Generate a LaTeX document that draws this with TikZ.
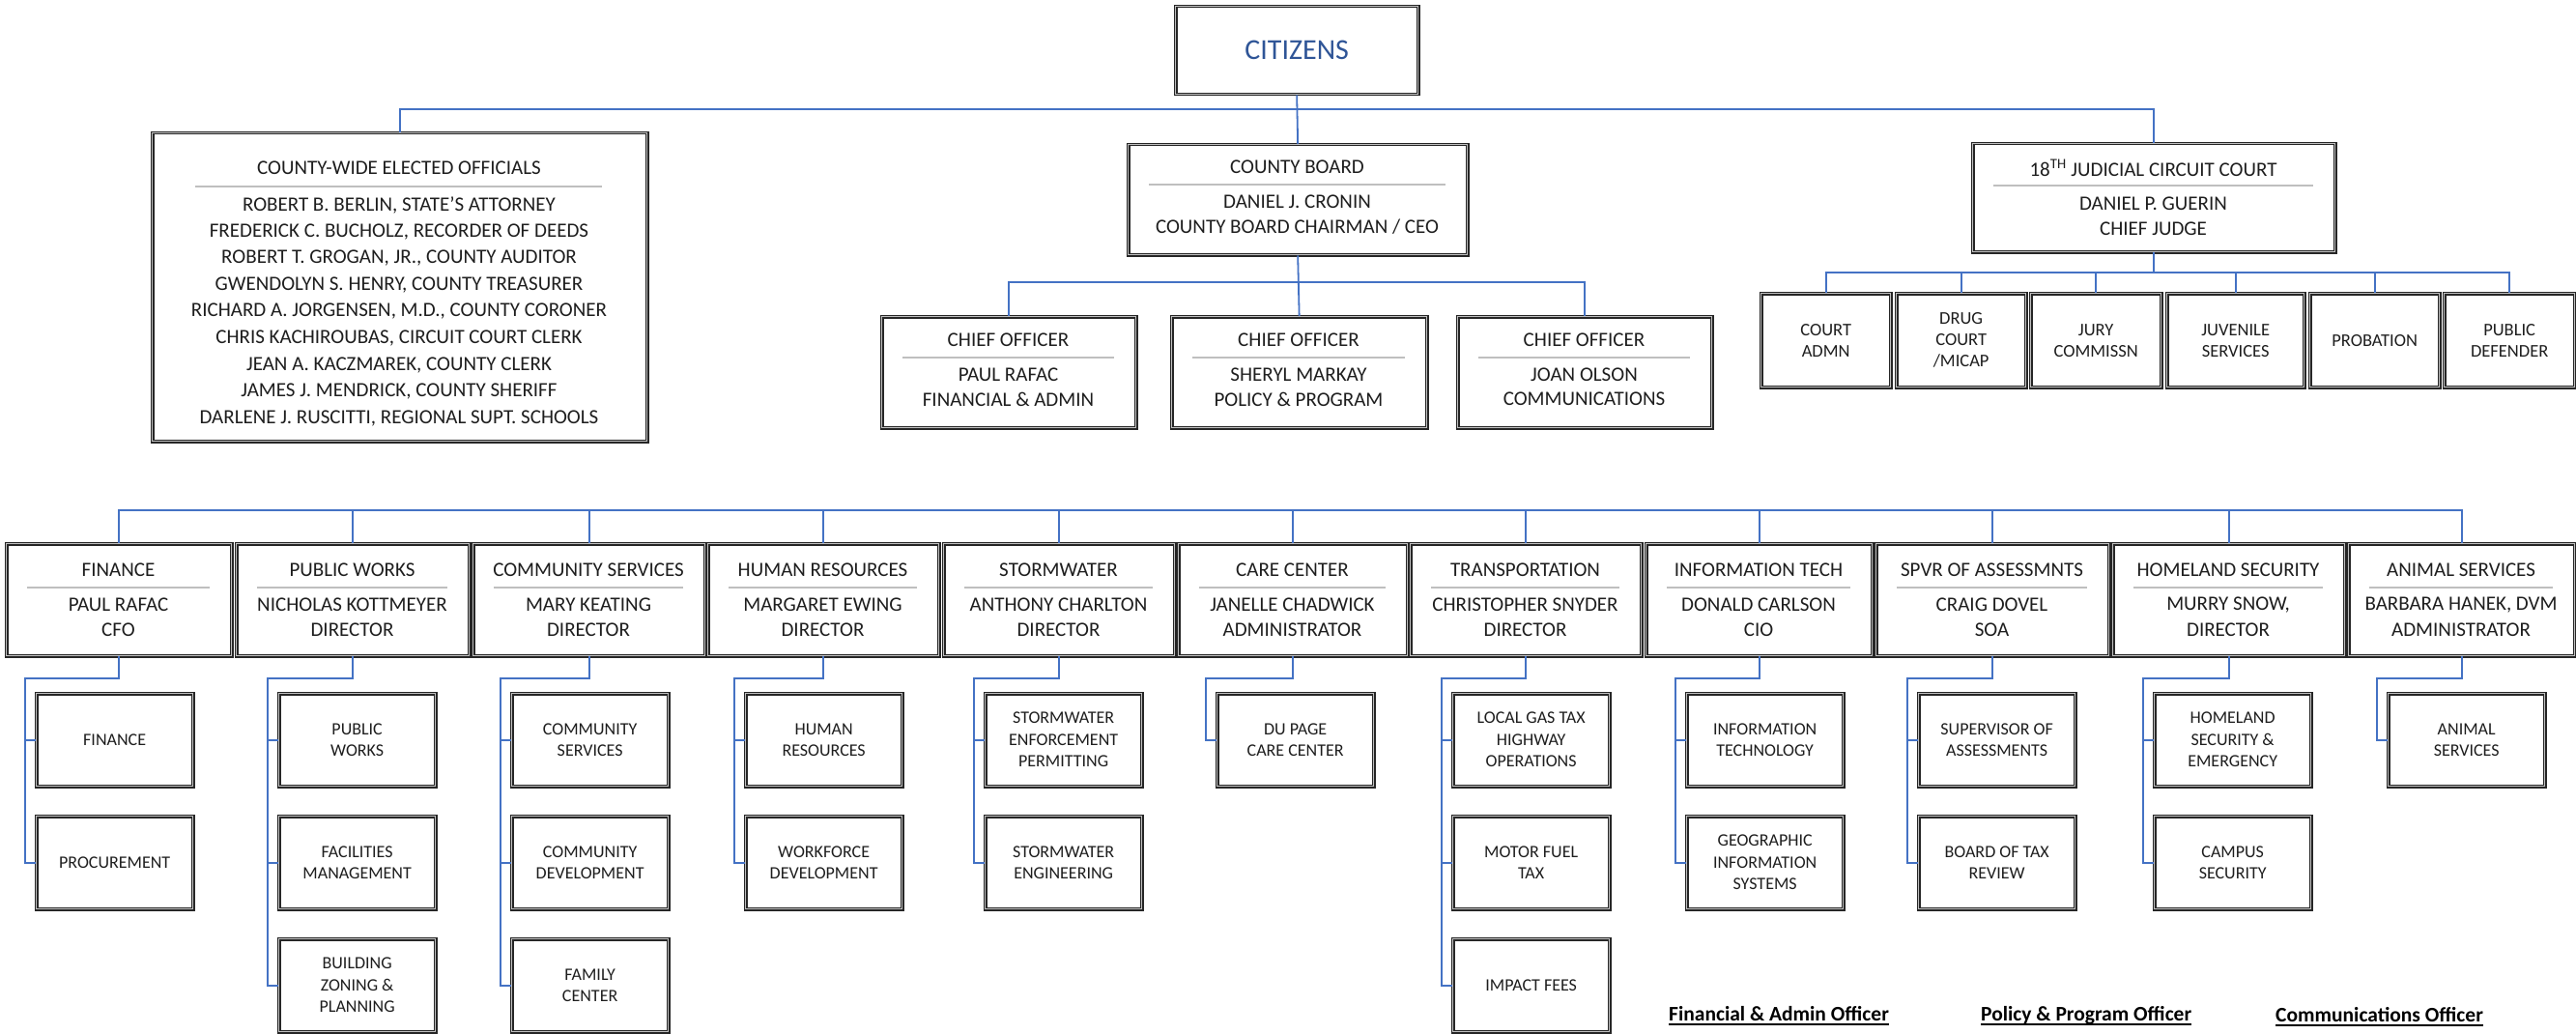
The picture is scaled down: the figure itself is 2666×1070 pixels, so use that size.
\documentclass[tikz,border=0pt]{standalone}
\usepackage{fontspec}
\setmainfont{Carlito}
\definecolor{linkblue}{RGB}{68,114,196}
\definecolor{citblue}{RGB}{47,85,151}
\definecolor{txt}{RGB}{30,30,30}
\tikzset{
  orgbox/.style={draw=black!85, line width=1.3pt, double=black!25, double distance=1.1pt, rectangle, inner sep=0pt, anchor=north west},
  link/.style={draw=linkblue, line width=1.8pt},
  sepline/.style={draw=gray!50, line width=1.4pt},
  lbl/.style={text=txt, font=\fontsize{21}{26}\selectfont, inner sep=0pt},
  sublbl/.style={text=txt, font=\fontsize{18}{22.5}\selectfont, align=center, inner sep=0pt},
  jlbl/.style={text=txt, font=\fontsize{18.5}{22}\selectfont, align=center, inner sep=0pt},
  leg/.style={text=black, font=\bfseries\fontsize{21.5}{25}\selectfont, inner sep=0pt, anchor=base west},
}
\newcommand\deptunit[6]{%
  \node[orgbox, minimum width={#3-#2}, minimum height=116] (#1) at (#2,562) {};
  \node[lbl] (#1-t) at ({(#2+#3)/2},590) {#4};
  \draw[sepline] ({#2+22},608) -- ({#3-22},608);
  \node[lbl] (#1-a) at ({(#2+#3)/2},626) {#5};
  \node[lbl] (#1-b) at ({(#2+#3)/2},652) {#6};
}
\newcommand\subunit[4]{%
  \node[orgbox, minimum width=162, minimum height=96] (#1) at (#2,#3) {};
  \node[sublbl] (#1-t) at (#1.center) {#4};
}
\newcommand\chiefunit[5]{%
  \node[orgbox, minimum width={#3-#2}, minimum height=115] (#1) at (#2,327) {};
  \node[lbl] (#1-t) at ({(#2+#3)/2},352) {CHIEF OFFICER};
  \draw[sepline] ({#2+22},370) -- ({#3-22},370);
  \node[lbl] (#1-a) at ({(#2+#3)/2},388) {#4};
  \node[lbl] (#1-b) at ({(#2+#3)/2},413) {#5};
}
\newcommand\judunit[4]{%
  \node[orgbox, minimum width={#3-#2}, minimum height=97] (#1) at (#2,303) {};
  \node[jlbl] (#1-t) at (#1.center) {#4};
}
\begin{document}
\begin{tikzpicture}[x=1pt,y=-1pt]
\useasboundingbox (0,0) rectangle (2666,1070);

% ---------- top level ----------
\node[orgbox, minimum width=251, minimum height=91] (cit) at (1216,6) {};
\node[text=citblue, font=\fontsize{30}{36}\selectfont, inner sep=0pt] (cit-t) at (cit.center) {CITIZENS};

% county-wide elected officials
\node[orgbox, minimum width=512, minimum height=319] (cwe) at (157,137) {};
\node[lbl] (cwe-t) at (413,174) {COUNTY-WIDE ELECTED OFFICIALS};
\draw[sepline] (202,193) -- (623,193);
\foreach \txt [count=\i from 0] in {%
  {ROBERT B. BERLIN, STATE’S ATTORNEY},
  {FREDERICK C. BUCHOLZ, RECORDER OF DEEDS},
  {ROBERT T. GROGAN, JR., COUNTY AUDITOR},
  {GWENDOLYN S. HENRY, COUNTY TREASURER},
  {RICHARD A. JORGENSEN, M.D., COUNTY CORONER},
  {CHRIS KACHIROUBAS, CIRCUIT COURT CLERK},
  {JEAN A. KACZMAREK, COUNTY CLERK},
  {JAMES J. MENDRICK, COUNTY SHERIFF},
  {DARLENE J. RUSCITTI, REGIONAL SUPT. SCHOOLS}}
  \node[lbl] (cwe-\i) at (413,{212+27.6*\i}) {\txt};

% county board
\node[orgbox, minimum width=351, minimum height=114] (board) at (1167,149) {};
\node[lbl] (board-t) at (1342.5,173) {COUNTY BOARD};
\draw[sepline] (1189,191) -- (1496,191);
\node[lbl] (board-a) at (1342.5,209) {DANIEL J. CRONIN};
\node[lbl] (board-b) at (1342.5,235) {COUNTY BOARD CHAIRMAN / CEO};

% judicial
\node[orgbox, minimum width=375, minimum height=112] (jud) at (2041,148) {};
\node[lbl] (jud-t) at (2228.5,174) {18\textsuperscript{TH} JUDICIAL CIRCUIT COURT};
\draw[sepline] (2063,192) -- (2394,192);
\node[lbl] (jud-a) at (2228.5,211) {DANIEL P. GUERIN};
\node[lbl] (jud-b) at (2228.5,237) {CHIEF JUDGE};

\coordinate (topbus) at (0,113);
\draw[link] (cit.south) -- (board.north);
\draw[link] (cwe.north) |- (jud.north |- topbus) -- (jud.north);

% chief officers
\chiefunit{ch1}{912}{1175}{PAUL RAFAC}{FINANCIAL \& ADMIN}
\chiefunit{ch2}{1212}{1476}{SHERYL MARKAY}{POLICY \& PROGRAM}
\chiefunit{ch3}{1508}{1771}{JOAN OLSON}{COMMUNICATIONS}
\coordinate (chbus) at (0,292);
\draw[link] (board.south) -- (ch2.north);
\draw[link] (ch1.north) |- (ch3.north |- chbus) -- (ch3.north);

% judicial units
\judunit{j1}{1822}{1956}{COURT\\ADMN}
\judunit{j2}{1962}{2096}{DRUG\\COURT\\/MICAP}
\judunit{j3}{2101}{2236}{JURY\\COMMISSN}
\judunit{j4}{2242}{2384}{JUVENILE\\SERVICES}
\judunit{j5}{2390}{2524}{PROBATION}
\judunit{j6}{2529}{2664}{PUBLIC\\DEFENDER}
\coordinate (jbus) at (0,282);
\draw[link] (jud.south) -- (jud.south |- jbus);
\draw[link] (j1.north) |- (j6.north |- jbus) -- (j6.north);
\foreach \n in {j2,j3,j4,j5} \draw[link] (\n.north) -- (\n.north |- jbus);

% ---------- departments ----------
\deptunit{fin}{6}{239}{FINANCE}{PAUL RAFAC}{CFO}
\deptunit{pw}{244}{485}{PUBLIC WORKS}{NICHOLAS KOTTMEYER}{DIRECTOR}
\deptunit{cs}{489}{729}{COMMUNITY SERVICES}{MARY KEATING}{DIRECTOR}
\deptunit{hr}{732}{971}{HUMAN RESOURCES}{MARGARET EWING}{DIRECTOR}
\deptunit{sw}{976}{1215}{STORMWATER}{ANTHONY CHARLTON}{DIRECTOR}
\deptunit{cc}{1219}{1456}{CARE CENTER}{JANELLE CHADWICK}{ADMINISTRATOR}
\deptunit{tr}{1459}{1698}{TRANSPORTATION}{CHRISTOPHER SNYDER}{DIRECTOR}
\deptunit{it}{1703}{1937}{INFORMATION TECH}{DONALD CARLSON}{CIO}
\deptunit{sa}{1941}{2182}{SPVR OF ASSESSMNTS}{CRAIG DOVEL}{SOA}
\deptunit{hs}{2186}{2426}{HOMELAND SECURITY}{MURRY SNOW,}{DIRECTOR}
\deptunit{an}{2430}{2664}{ANIMAL SERVICES}{BARBARA HANEK, DVM}{ADMINISTRATOR}

\coordinate (bus) at (0,528);
\draw[link] (fin.north) |- (an.north |- bus) -- (an.north);
\foreach \n in {pw,cs,hr,sw,cc,tr,it,sa,hs} \draw[link] (\n.north) -- (\n.north |- bus);

% ---------- units ----------
\subunit{fin1}{37}{717}{FINANCE}
\subunit{fin2}{37}{844}{PROCUREMENT}
\subunit{pw1}{288}{717}{PUBLIC\\WORKS}
\subunit{pw2}{288}{844}{FACILITIES\\MANAGEMENT}
\subunit{pw3}{288}{971}{BUILDING\\ZONING \&\\PLANNING}
\subunit{cs1}{529}{717}{COMMUNITY\\SERVICES}
\subunit{cs2}{529}{844}{COMMUNITY\\DEVELOPMENT}
\subunit{cs3}{529}{971}{FAMILY\\CENTER}
\subunit{hr1}{771}{717}{HUMAN\\RESOURCES}
\subunit{hr2}{771}{844}{WORKFORCE\\DEVELOPMENT}
\subunit{sw1}{1019}{717}{STORMWATER\\ENFORCEMENT\\PERMITTING}
\subunit{sw2}{1019}{844}{STORMWATER\\ENGINEERING}
\subunit{cc1}{1259}{717}{DU PAGE\\CARE CENTER}
\subunit{tr1}{1503}{717}{LOCAL GAS TAX\\HIGHWAY\\OPERATIONS}
\subunit{tr2}{1503}{844}{MOTOR FUEL\\TAX}
\subunit{tr3}{1503}{971}{IMPACT FEES}
\subunit{it1}{1745}{717}{INFORMATION\\TECHNOLOGY}
\subunit{it2}{1745}{844}{GEOGRAPHIC\\INFORMATION\\SYSTEMS}
\subunit{sa1}{1985}{717}{SUPERVISOR OF\\ASSESSMENTS}
\subunit{sa2}{1985}{844}{BOARD OF TAX\\REVIEW}
\subunit{hs1}{2229}{717}{HOMELAND\\SECURITY \&\\EMERGENCY}
\subunit{hs2}{2229}{844}{CAMPUS\\SECURITY}
\subunit{an1}{2471}{717}{ANIMAL\\SERVICES}

% brackets: dept -> units
\foreach \d/\last/\others in {fin/fin2/{fin1}, pw/pw3/{pw1,pw2}, cs/cs3/{cs1,cs2}, hr/hr2/{hr1},
    sw/sw2/{sw1}, cc/cc1/{}, tr/tr3/{tr1,tr2}, it/it2/{it1}, sa/sa2/{sa1}, hs/hs2/{hs1}, an/an1/{}} {
  \draw[link] (\d.south) -- ++(0,23) -| ([xshift=-11pt]\last.west) -- (\last.west);
  \foreach \o in \others {
    \draw[link] ([xshift=-11pt]\o.west) -- (\o.west);
  }
}

% ---------- legend ----------
\node[leg] (leg1) at (1727,1056) {Financial \& Admin Officer};
\node[leg] (leg2) at (2050,1056) {Policy \& Program Officer};
\node[leg] (leg3) at (2355,1057) {Communications Officer};
\foreach \n in {leg1,leg2,leg3}
  \draw[line width=2.6pt] ([yshift=-4pt]\n.base west) -- ([yshift=-4pt]\n.base east);
\end{tikzpicture}
\end{document}
